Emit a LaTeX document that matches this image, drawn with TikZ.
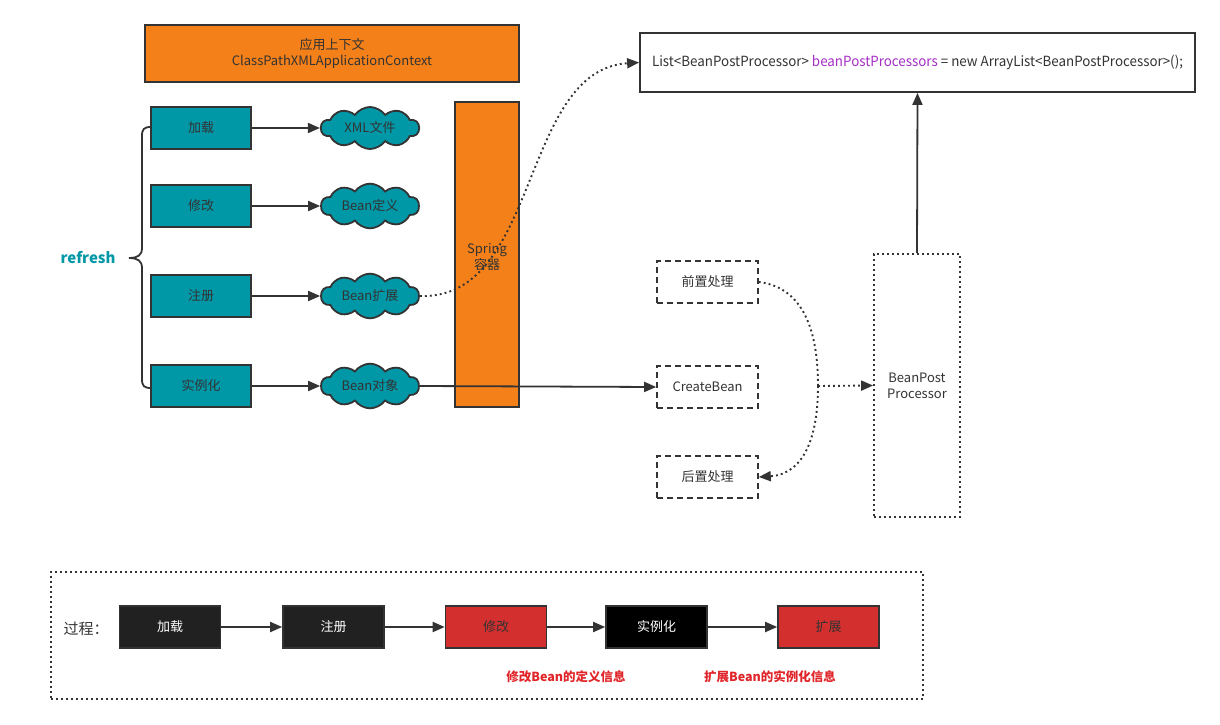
\documentclass[tikz,border=0pt]{standalone}
\usepackage{fontspec}
\setmainfont{Noto Sans CJK SC}
\usetikzlibrary{arrows.meta,shapes.symbols}
\definecolor{orng}{HTML}{F48019}
\definecolor{teal2}{HTML}{0097A7}
\definecolor{dk}{HTML}{333333}
\definecolor{redb}{HTML}{D32F2F}
\definecolor{redt}{HTML}{E0262A}
\definecolor{purp}{HTML}{A52FC4}
\tikzset{
  ln/.style={draw=dk,line width=1.8pt},
  tip/.style={-{Triangle[length=12pt,width=10pt]}},
  tealbox/.style={ln,fill=teal2,minimum width=100pt,minimum height=42pt,inner sep=0pt,text=dk,font=\fontsize{13}{15}\selectfont},
  cloudn/.style={ln,cloud,cloud puffs=10,cloud puff arc=110,aspect=2.4,fill=teal2,minimum width=98pt,minimum height=42pt,inner sep=0pt,text=dk,font=\fontsize{13}{15}\selectfont},
  dashbox/.style={draw=dk,line width=1.6pt,dash pattern=on 6pt off 4pt,minimum width=101pt,minimum height=42pt,inner sep=0pt,text=dk,font=\fontsize{13}{15}\selectfont},
  procbox/.style={draw=dk,line width=1.6pt,minimum width=101pt,minimum height=42pt,inner sep=0pt,font=\fontsize{13}{15}\selectfont},
  dotln/.style={draw=dk,line width=1.9pt,dash pattern=on 1.9pt off 3.1pt},
  redlbl/.style={text=redt,font=\bfseries\fontsize{12.5}{14}\selectfont},
}
\begin{document}
\begin{tikzpicture}[x=1pt,y=-1pt]
\useasboundingbox (0,0) rectangle (1220,725);
% top context box
\node[ln,fill=orng,minimum width=374pt,minimum height=57pt,inner sep=0pt,align=center,text=dk,font=\fontsize{13}{16}\selectfont] (ctx) at (332,53.5) {应用上下文\\ClassPathXMLApplicationContext};
% spring container
\node[ln,fill=orng,minimum width=64pt,minimum height=305pt,inner sep=0pt] (spring) at (487,254.5) {};
\node[text=dk,align=center,font=\fontsize{13}{16}\selectfont] (springt) at (487,257) {Spring\\容器};
% teal boxes
\node[tealbox] (b1) at (201,128) {加载};
\node[tealbox] (b2) at (201,206) {修改};
\node[tealbox] (b3) at (201,296) {注册};
\node[tealbox] (b4) at (201,386) {实例化};
% clouds
\node[cloudn] (c1) at (370,128) {XML文件};
\node[cloudn] (c2) at (370,206) {Bean定义};
\node[cloudn] (c3) at (370,296) {Bean扩展};
\node[cloudn] (c4) at (370,386) {Bean对象};
\foreach \i in {1,2,3,4} \draw[ln,tip] (b\i.east) -- (c\i.west);
% brace
\coordinate (brtop) at (151,127);
\coordinate (brbot) at (151,388);
\coordinate (brmid) at (129,258);
\draw[ln] (brtop) .. controls (144,127) and (142,129) .. (142,136) -- (142,248) .. controls (142,255) and (138,258) .. (brmid) .. controls (138,258) and (142,261) .. (142,268) -- (142,379) .. controls (142,386) and (144,388) .. (brbot);
\node[text=teal2,font=\bfseries\fontsize{15}{17}\selectfont,anchor=east] (refresh) at (119,258) {refresh};
% list box
\node[ln,fill=white,minimum width=555pt,minimum height=59pt,inner sep=0pt,text=dk,font=\fontsize{14}{16}\selectfont] (list) at (917.5,62.5) {\scalebox{0.955}[1]{List<BeanPostProcessor> \textcolor{purp}{beanPostProcessors} = new ArrayList<BeanPostProcessor>();}};
% dashed boxes
\node[dashbox] (pre) at (707.5,282) {前置处理};
\node[dashbox] (create) at (707.5,387) {CreateBean};
\node[dashbox] (post) at (707.5,477) {后置处理};
% BPP box
\node[dotln,minimum width=86pt,minimum height=263pt,inner sep=0pt,align=center,text=dk,font=\fontsize{13}{16}\selectfont] (bpp) at (917,385.5) {BeanPost\\Processor};
% connectors
\draw[dotln,tip] (c3.east) .. controls (540,300) and (520,70) .. (list.west);
\draw[ln,tip] (c4.east) -- (create.west);
\coordinate (mid) at (818,386);
\draw[dotln] (pre.east) .. controls (808,288) and (818,340) .. (mid);
\draw[dotln,tip] (mid) .. controls (818,435) and (805,474) .. (post.east);
\draw[dotln,tip] (mid) -- (bpp.west);
\draw[ln,tip] (bpp.north) -- (list.south);
% bottom process
\node[dotln,minimum width=872pt,minimum height=127pt,inner sep=0pt] (proc) at (487,635.5) {};
\node[text=dk,font=\fontsize{15}{17}\selectfont,anchor=west] (guocheng) at (60,629) {过程：};
\node[procbox,fill=black!87,text=white] (p1) at (170,627) {加载};
\node[procbox,fill=black!87,text=white] (p2) at (333.5,627) {注册};
\node[procbox,fill=redb,text=dk] (p3) at (496,627) {修改};
\node[procbox,fill=black,text=white] (p4) at (656.5,627) {实例化};
\node[procbox,fill=redb,text=dk] (p5) at (828.5,627) {扩展};
\draw[ln,tip] (p1.east) -- (p2.west);
\draw[ln,tip] (p2.east) -- (p3.west);
\draw[ln,tip] (p3.east) -- (p4.west);
\draw[ln,tip] (p4.east) -- (p5.west);
\node[redlbl] (l1) at (566,677) {修改Bean的定义信息};
\node[redlbl] (l2) at (770,677) {扩展Bean的实例化信息};
\end{tikzpicture}
\end{document}
